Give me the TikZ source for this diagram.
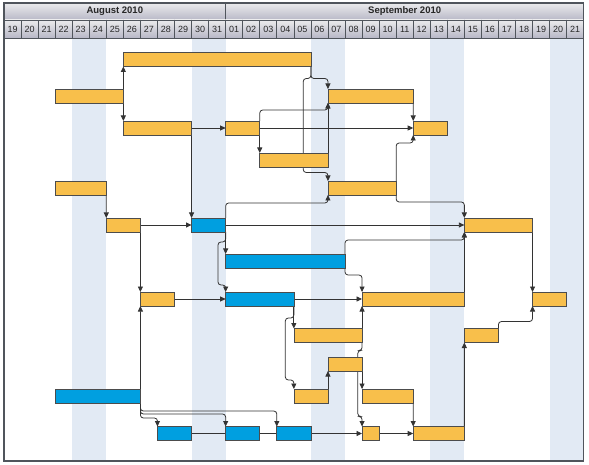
\documentclass[tikz,border=0pt]{standalone}
\usepackage{fontspec}
\setmainfont{Liberation Sans}
\usetikzlibrary{arrows.meta,backgrounds}
\definecolor{barorange}{HTML}{F8BF4B}
\definecolor{barblue}{HTML}{009FE0}
\definecolor{weekend}{HTML}{E2EAF4}
\definecolor{linkgray}{HTML}{333333}
\definecolor{framegray}{HTML}{50555C}
\def\dayw{17.05pt}
\tikzstyle{task}=[draw=black!70,line width=0.7pt,minimum height=14pt,inner sep=0pt,outer sep=0pt,anchor=west]
\tikzstyle{obar}=[task,fill=barorange]
\tikzstyle{bbar}=[task,fill=barblue]
\tikzset{len/.style={minimum width=#1*\dayw}}
\tikzstyle{head}=[draw=framegray,line width=0.7pt,top color=blue!4!gray!15,bottom color=blue!12!gray!50]
\tikzstyle{daylabel}=[text=black!85,font=\fontsize{9}{10}\selectfont]
\tikzstyle{monthlabel}=[text=black!85,font=\bfseries\fontsize{9.5}{11}\selectfont]

\begin{document}
\begin{tikzpicture}[x=17.05pt,y=-1pt,>={Triangle[length=5.5pt,width=5pt]},
    every path/.append style={line width=0.8pt}]
  \useasboundingbox (-0.2346,0) rectangle (34.311,465);

  % weekends
  \begin{pgfonlayer}{background}
    \foreach \w in {4,11,18,25,32}
      \fill[weekend] (\w,38) rectangle (\w+2,461);
  \end{pgfonlayer}

  % header
  \draw[head] (0,3) rectangle (13,20);
  \draw[head] (13,3) rectangle (34,20);
  \node[monthlabel] (aug) at (6.5,11.5) {August 2010};
  \node[monthlabel] (sep) at (23.5,11.5) {September 2010};
  \foreach \lab [count=\d from 0] in {19,20,21,22,23,24,25,26,27,28,29,30,31,01,02,03,04,05,06,07,08,09,10,11,12,13,14,15,16,17,18,19,20,21} {
    \draw[head] (\d,20) rectangle (\d+1,38);
    \node[daylabel] (day\d) at (\d+0.5,29) {\lab};
  }

  % tasks
  \node[obar,len=11] (A) at (7,59.5) {};
  \node[obar,len=4] (B) at (3,96) {};
  \node[obar,len=5] (F) at (19,96) {};
  \node[obar,len=4] (C) at (7,128) {};
  \node[obar,len=2] (D) at (13,128) {};
  \node[obar,len=2] (G) at (24,128) {};
  \node[obar,len=4] (E) at (15,160) {};
  \node[obar,len=3] (H) at (3,188) {};
  \node[obar,len=4] (I) at (19,188) {};
  \node[obar,len=2] (J) at (6,225) {};
  \node[bbar,len=2] (K) at (11,225) {};
  \node[obar,len=4] (L) at (27,225) {};
  \node[bbar,len=7] (M) at (13,261) {};
  \node[obar,len=2] (N) at (8,299) {};
  \node[bbar,len=4] (O) at (13,299) {};
  \node[obar,len=6] (P) at (21,299) {};
  \node[obar,len=2] (Q) at (31,299) {};
  \node[obar,len=4] (R) at (17,335.5) {};
  \node[obar,len=2] (S) at (27,335.5) {};
  \node[obar,len=2] (T) at (19,364) {};
  \node[obar,len=2] (U) at (17,396) {};
  \node[obar,len=3] (V) at (21,396) {};
  \node[bbar,len=5] (W) at (3,396) {};
  \node[bbar,len=2] (X) at (9,433.5) {};
  \node[bbar,len=2] (Y) at (13,433.5) {};
  \node[bbar,len=2] (Z) at (16,433.5) {};
  \node[obar,len=1] (AA) at (21,433.5) {};
  \node[obar,len=3] (AB) at (24,433.5) {};

  % links
  \begin{pgfonlayer}{background}
  \begin{scope}[draw=linkgray,rounded corners=3pt]
    \draw[->] (B.east) -- (A.south west);
    \draw[->] (B.east) -- (C.north west);
    \draw[->] (C.east) -- (D.west);
    \draw[->] (C.south east) -- (K.north west);
    \draw[->] (D.south east) -- (E.north west);
    \draw[->] (D.north east) -- ++(0,-11) -| (F.south west);
    \draw[->] (D.east) -- (G.west);
    \draw[->] (A.south east) -- ++(0,12) -| (F.north west);
    \draw[->] (A.south east) -- ++(0,12) -| ++(-0.45,94) -| (I.north west);
    \draw[->] (E.north east) -- (F.south west);
    \draw[->] (F.south east) -- (G.north west);
    \draw[->] (I.north east) -- ++(0,-38) -| (G.south west);
    \draw[->] (H.south east) -- (J.north west);
    \draw[->] (J.east) -- (K.west);
    \draw[->] (J.south east) -- (N.north west);
    \draw[->] (W.north east) -- (N.south west);
    \draw[->] (K.north east) -- ++(0,-15) -| (I.south west);
    \draw[->] (K.east) -- (L.west);
    \draw[->] (K.south east) -- (M.north west);
    \draw[->] (K.south east) -- ++(0,10) -| ++(-0.45,43) -| (O.north west);
    \draw[->] (I.south east) -- ++(0,7) -| (L.north west);
    \draw[->] (M.north east) -- ++(0,-14) -| (L.south west);
    \draw[->] (P.north east) -- (L.south west);
    \draw[->] (M.south east) -- ++(0,7) -| (P.north west);
    \draw[->] (N.east) -- (O.west);
    \draw[->] (O.east) -- (P.west);
    \draw[->] (L.south east) -- (Q.north west);
    \draw[->] (S.north east) -- ++(0,-7) -| (Q.south west);
    \draw[->] (AB.north east) -- (S.south west);
    \draw[->] (O.south east) -- (R.north west);
    \draw[->] (O.south east) -- ++(0,12) -| ++(-0.5,62) -| (U.north west);
    \draw[->] (R.north east) -- (P.south west);
    \draw[->] (R.south east) -- ++(0,8) -| ++(-0.25,66) -| (AA.north west);
    \draw[->] (T.south east) -- (V.north west);
    \draw[->] (U.north east) -- (T.south west);
    \draw[->] (V.south east) -- (AB.north west);
    \draw[->] (Z.east) -- (AA.west);
    \draw[->] (AA.east) -- (AB.west);
    \draw (X.east) -- (Y.west);
    \draw (Y.east) -- (Z.west);
    \draw[->] (W.south east) -- ++(0,8) -| (Z.north west);
    \draw[->] (W.south east) -- ++(0,11) -| (Y.north west);
    \draw[->] (W.south east) -- ++(0,15) -| (X.north west);
  \end{scope}
  \end{pgfonlayer}

  % frame
  \draw[framegray,line width=1.3pt] (0,3) rectangle (34,461);
\end{tikzpicture}
\end{document}
